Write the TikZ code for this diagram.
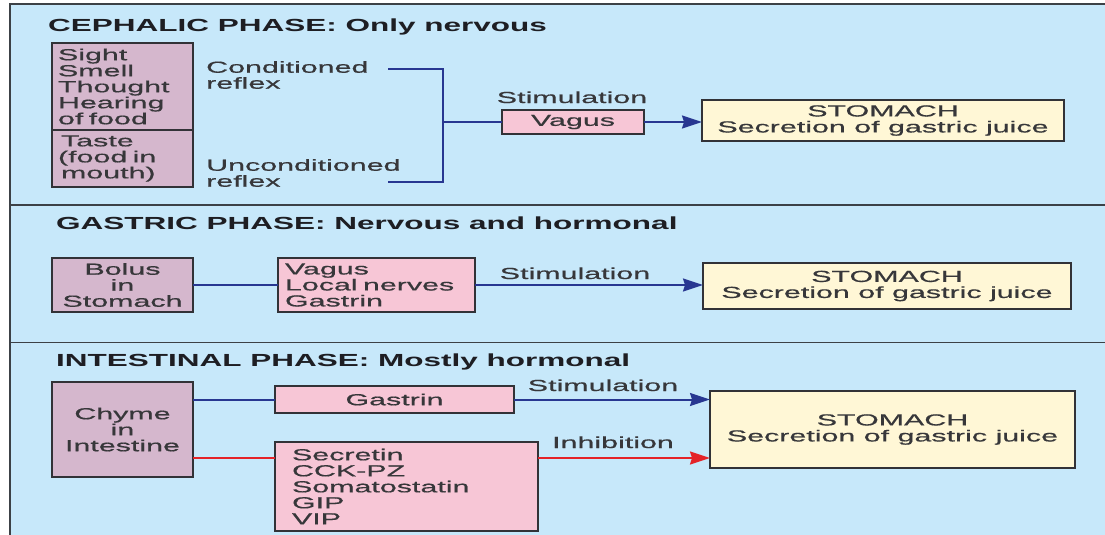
\documentclass[tikz,border=0pt]{standalone}
\usepackage{fontspec}
\setmainfont{Liberation Sans}[FakeStretch=1.9, FakeBold=0.6]
\newfontfamily\titlefont{Liberation Sans}[FakeStretch=1.8]
\usetikzlibrary{arrows.meta}
\definecolor{bgblue}{RGB}{199,232,250}
\definecolor{mauvefill}{RGB}{213,183,205}
\definecolor{pinkfill}{RGB}{247,198,214}
\definecolor{yellowfill}{RGB}{255,247,214}
\definecolor{boxline}{RGB}{50,50,55}
\definecolor{textcol}{RGB}{55,55,58}
\definecolor{titlecol}{RGB}{30,30,35}
\definecolor{lineblue}{RGB}{40,55,145}
\definecolor{linered}{RGB}{228,35,40}
\definecolor{framecol}{RGB}{60,65,70}
\newcommand{\bodyfont}{\fontsize{16}{16}\selectfont}
\newcommand{\headfont}{\titlefont\bfseries\fontsize{17.5}{18}\selectfont}
\tikzset{
  box/.style={draw=boxline, line width=1.8pt, inner sep=0pt, outer sep=0pt,
              text=textcol, font=\bodyfont},
  mauvebox/.style={box, fill=mauvefill},
  pinkbox/.style={box, fill=pinkfill},
  stomachbox/.style={box, fill=yellowfill, align=center},
  lbl/.style={inner sep=0pt, text=textcol, font=\bodyfont, align=left},
  heading/.style={inner sep=0pt, anchor=base west, text=titlecol, font=\headfont},
  blueline/.style={draw=lineblue, line width=2pt},
  redline/.style={draw=linered, line width=2pt},
  bluearrow/.style={blueline, -{Stealth[length=20pt,width=13pt,inset=2pt]}},
  redarrow/.style={redline, -{Stealth[length=20pt,width=13pt,inset=2pt]}},
  divider/.style={draw=framecol, line width=1.6pt},
}
\begin{document}
\begin{tikzpicture}[x=1pt,y=-1pt]
\useasboundingbox (0,0) rectangle (1105,535);
\fill[white] (0,0) rectangle (1105,535);
\fill[bgblue] (10,4) rectangle (1105,535);
\draw[draw=framecol, line width=2.5pt] (10,535) -- (10,4) -- (1105,4);
\draw[divider] (10,205) -- (1105,205);
\draw[divider] (10,342.5) -- (1105,342.5);

% ---------- CEPHALIC ----------
\node[heading] (t1) at (48,32) {CEPHALIC PHASE: Only nervous};
\node[mauvebox, minimum width=141, minimum height=87, align=left, inner xsep=6pt, text width=129pt]
  (senses) at (122.5,86.5) {Sight\\Smell\\Thought\\Hearing\\of food};
\node[mauvebox, minimum width=141, minimum height=57, align=left, inner xsep=6pt, text width=129pt]
  (taste) at (122.5,158.5) {\hspace*{3pt}Taste\\(food in\\\hspace*{3pt}mouth)};
\node[lbl, anchor=west] (cond) at (206,75) {Conditioned\\reflex};
\node[lbl, anchor=west] (uncond) at (206,173) {Unconditioned\\reflex};
\node[pinkbox, minimum width=142, minimum height=24] (vagus1) at (573,122) {Vagus};
\node[lbl, anchor=base] (stim1) at (572,103) {Stimulation};
\node[stomachbox, minimum width=362, minimum height=41] (stomach1) at (883,120.5)
  {STOMACH\\Secretion of gastric juice};
\coordinate (c1) at (388,69);
\coordinate (c2) at (388,182);
\coordinate (bt) at (443,69);
\coordinate (bb) at (443,182);
\draw[blueline] (c1) -- (bt) -- (bb) -- (c2);
\draw[blueline] (bt |- vagus1.west) -- (vagus1.west);
\draw[bluearrow] (vagus1.east) -- (vagus1.east -| stomach1.west);

% ---------- GASTRIC ----------
\node[heading] (t2) at (56,229) {GASTRIC PHASE: Nervous and hormonal};
\node[mauvebox, minimum width=141, minimum height=54, align=center] (bolus) at (122.5,285)
  {Bolus\\in\\Stomach};
\node[pinkbox, minimum width=197, minimum height=54, align=left, inner xsep=7pt, text width=183pt]
  (gvagus) at (376.5,285) {Vagus\\Local nerves\\Gastrin};
\node[stomachbox, minimum width=368, minimum height=46] (stomach2) at (887,286)
  {STOMACH\\Secretion of gastric juice};
\node[lbl, anchor=base] (stim2) at (575,279) {Stimulation};
\draw[blueline] (bolus.east) -- (gvagus.west);
\draw[bluearrow] (gvagus.east) -- (gvagus.east -| stomach2.west);

% ---------- INTESTINAL ----------
\node[heading] (t3) at (56,366) {INTESTINAL PHASE: Mostly hormonal};
\node[mauvebox, minimum width=141, minimum height=95, align=center] (chyme) at (122.5,429.5)
  {Chyme\\in\\Intestine};
\node[pinkbox, minimum width=239, minimum height=27] (gastrin) at (394.5,399.5) {Gastrin};
\node[pinkbox, minimum width=263, minimum height=89, align=left, inner xsep=17pt, text width=229pt]
  (secretin) at (406.5,486.5) {Secretin\\CCK-PZ\\Somatostatin\\GIP\\VIP};
\node[stomachbox, minimum width=365, minimum height=77] (stomach3) at (892.5,429.5)
  {STOMACH\\Secretion of gastric juice};
\node[lbl, anchor=base] (stim3) at (603,391) {Stimulation};
\node[lbl, anchor=base] (inhib) at (613,448) {Inhibition};
\coordinate (inh) at (275,458);
\draw[blueline] (chyme.east |- gastrin.west) -- (gastrin.west);
\draw[bluearrow] (gastrin.east) -- (gastrin.east -| stomach3.west);
\draw[redline] (chyme.east |- inh) -- (inh);
\draw[redarrow] (inh -| secretin.east) -- (inh -| stomach3.west);
\end{tikzpicture}
\end{document}
